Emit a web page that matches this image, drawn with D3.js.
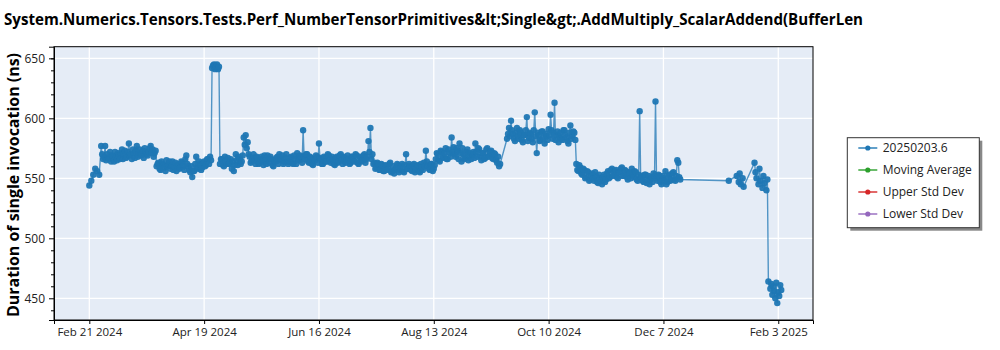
<!DOCTYPE html>
<html><head><meta charset="utf-8">
<script src="https://cdn.jsdelivr.net/npm/d3@7"></script>
<style>body{margin:0;background:#fff}svg{display:block}text{font-family:"Open Sans","Noto Sans",sans-serif}</style>
</head><body><svg id="chart" width="1000" height="350"></svg>
<script>
const titleText = "System.Numerics.Tensors.Tests.Perf_NumberTensorPrimitives&lt;Single&gt;.AddMultiply_ScalarAddend(BufferLen";
const yAxisLabel = "Duration of single invocation (ns)";
const legendLabels = ["20250203.6", "Moving Average", "Upper Std Dev", "Lower Std Dev"];
const legendColors = ["#1f77b4", "#2ca02c", "#d62728", "#9467bd"];
const xTickDates = ["2024-02-21", "2024-04-19", "2024-06-16", "2024-08-13", "2024-10-10", "2024-12-07", "2025-02-03"];
const yTickValues = [450, 500, 550, 600, 650];
const yMinorTicks = [440, 460, 470, 480, 490, 510, 520, 530, 540, 560, 570, 580, 590, 610, 620, 630, 640, 650];

// first run of each day
const runDates = [
"2024-02-21","2024-02-22","2024-02-23","2024-02-24","2024-02-25","2024-02-26","2024-02-27","2024-02-28","2024-02-29",
"2024-03-01","2024-03-02","2024-03-03","2024-03-04","2024-03-05","2024-03-06","2024-03-07","2024-03-08","2024-03-09","2024-03-10","2024-03-11","2024-03-12","2024-03-13","2024-03-14","2024-03-15","2024-03-16","2024-03-17","2024-03-18","2024-03-19","2024-03-20","2024-03-21","2024-03-22","2024-03-23","2024-03-24","2024-03-25","2024-03-26","2024-03-27","2024-03-28","2024-03-29","2024-03-30","2024-03-31",
"2024-04-01","2024-04-02","2024-04-03","2024-04-04","2024-04-05","2024-04-06","2024-04-07","2024-04-08","2024-04-09","2024-04-10","2024-04-11","2024-04-12","2024-04-13","2024-04-14","2024-04-15","2024-04-16","2024-04-17","2024-04-18","2024-04-19","2024-04-20","2024-04-21","2024-04-22","2024-04-23","2024-04-24","2024-04-25","2024-04-26","2024-04-27","2024-04-28","2024-04-29","2024-04-30",
"2024-05-01","2024-05-02","2024-05-03","2024-05-04","2024-05-05","2024-05-06","2024-05-07","2024-05-08","2024-05-09","2024-05-10","2024-05-11","2024-05-12","2024-05-13","2024-05-14","2024-05-15","2024-05-16","2024-05-17","2024-05-18","2024-05-19","2024-05-20","2024-05-21","2024-05-22","2024-05-23","2024-05-24","2024-05-25","2024-05-26","2024-05-27","2024-05-28","2024-05-29","2024-05-30","2024-05-31",
"2024-06-01","2024-06-02","2024-06-03","2024-06-04","2024-06-05","2024-06-06","2024-06-07","2024-06-08","2024-06-09","2024-06-10","2024-06-11","2024-06-12","2024-06-13","2024-06-14","2024-06-15","2024-06-16","2024-06-17","2024-06-18","2024-06-19","2024-06-20","2024-06-21","2024-06-22","2024-06-23","2024-06-24","2024-06-25","2024-06-26","2024-06-27","2024-06-28","2024-06-29","2024-06-30",
"2024-07-01","2024-07-02","2024-07-03","2024-07-04","2024-07-05","2024-07-06","2024-07-07","2024-07-08","2024-07-09","2024-07-10","2024-07-11","2024-07-12","2024-07-13","2024-07-14","2024-07-15","2024-07-16","2024-07-17","2024-07-18","2024-07-19","2024-07-20","2024-07-21","2024-07-22","2024-07-23","2024-07-24","2024-07-25","2024-07-26","2024-07-27","2024-07-28","2024-07-29","2024-07-30","2024-07-31",
"2024-08-01","2024-08-02","2024-08-03","2024-08-04","2024-08-05","2024-08-06","2024-08-07","2024-08-08","2024-08-09","2024-08-10","2024-08-11","2024-08-12","2024-08-13","2024-08-14","2024-08-15","2024-08-16","2024-08-17","2024-08-18","2024-08-19","2024-08-20","2024-08-21","2024-08-22","2024-08-23","2024-08-24","2024-08-25","2024-08-26","2024-08-27","2024-08-28","2024-08-29","2024-08-30","2024-08-31",
"2024-09-01","2024-09-02","2024-09-03","2024-09-04","2024-09-05","2024-09-06","2024-09-07","2024-09-08","2024-09-09","2024-09-10","2024-09-11","2024-09-12","2024-09-13","2024-09-14","2024-09-15","2024-09-19","2024-09-20","2024-09-21","2024-09-22","2024-09-23","2024-09-24","2024-09-25","2024-09-26","2024-09-27","2024-09-28","2024-09-29","2024-09-30",
"2024-10-01","2024-10-02","2024-10-03","2024-10-04","2024-10-05","2024-10-06","2024-10-07","2024-10-08","2024-10-09","2024-10-10","2024-10-11","2024-10-12","2024-10-13","2024-10-14","2024-10-15","2024-10-16","2024-10-17","2024-10-18","2024-10-19","2024-10-20","2024-10-21","2024-10-22","2024-10-23","2024-10-24","2024-10-25","2024-10-26","2024-10-27","2024-10-28","2024-10-29","2024-10-30","2024-10-31",
"2024-11-01","2024-11-02","2024-11-03","2024-11-04","2024-11-05","2024-11-06","2024-11-07","2024-11-08","2024-11-09","2024-11-10","2024-11-11","2024-11-12","2024-11-13","2024-11-14","2024-11-15","2024-11-16","2024-11-17","2024-11-18","2024-11-19","2024-11-20","2024-11-21","2024-11-22","2024-11-23","2024-11-24","2024-11-25","2024-11-26","2024-11-27","2024-11-28","2024-11-29","2024-11-30",
"2024-12-01","2024-12-02","2024-12-03","2024-12-04","2024-12-05","2024-12-06","2024-12-07","2024-12-08","2024-12-09","2024-12-10","2024-12-11","2024-12-12","2024-12-13","2024-12-14","2024-12-15",
"2025-01-09","2025-01-13","2025-01-14T00:00Z","2025-01-14T12:00Z","2025-01-15","2025-01-16T00:00Z","2025-01-16T12:00Z","2025-01-22T00:00Z","2025-01-22T12:00Z","2025-01-23","2025-01-24T00:00Z","2025-01-24T12:00Z","2025-01-25","2025-01-26T00:00Z","2025-01-26T12:00Z","2025-01-27","2025-01-28T00:00Z","2025-01-28T12:00Z",
"2025-01-29","2025-01-30T00:00Z","2025-01-30T12:00Z","2025-01-31T00:00Z","2025-01-31T12:00Z","2025-02-01T00:00Z","2025-02-01T12:00Z","2025-02-02T00:00Z","2025-02-02T12:00Z","2025-02-03T00:00Z","2025-02-03T12:00Z","2025-02-04T00:00Z","2025-02-04T12:00Z"
];
const durations = [
544,548,553,558,556,553,577,566,577,
570,566,564,568,572,565,569,571,566,573,568,579,570,574,567,577,571,569,573,575,570,572,577,574,571,560,563,557,562,559,565,
561,558,564,560,556,562,559,563,557,569,560,555,551,556,568,558,562,559,564,561,566,568,642,645,643,641,562,566,560,564,
567,563,558,556,570,561,566,564,584,586,580,568,564,570,562,567,563,568,561,565,569,563,566,560,564,568,570,565,562,567,564,
564,568,562,566,571,565,568,590,566,570,563,567,561,565,568,579,566,562,567,564,569,563,566,561,568,564,570,562,567,565,
566,563,568,564,569,562,567,565,570,566,581,592,570,563,559,562,557,561,556,560,558,563,556,554,559,561,557,562,555,570,558,
560,556,562,557,561,555,559,563,573,560,557,562,558,566,570,564,572,568,575,566,571,584,576,568,573,579,564,570,567,574,569,
566,572,579,568,574,565,571,567,575,569,573,566,570,563,560,583,592,598,587,581,592,583,588,580,586,601,584,
587,580,605,571,586,582,589,579,585,591,603,583,613,586,580,588,582,590,584,579,594,585,588,562,556,559,553,557,551,555,549,
554,548,552,546,550,545,553,549,556,551,558,553,557,550,555,559,552,556,549,554,558,551,555,548,606,552,547,553,549,545,
551,554,614,548,552,545,550,556,547,553,549,555,548,565,551,
548,552,547,554,545,550,543,563,555,550,545,558,548,542,552,546,540,549,
464,458,462,453,460,456,450,463,446,455,452,461,457
];
// second (midday) run on the same days, aligned with runDates; null = no second run
const secondRunHour = 12;
const secondRunDurations = [
null,null,null,null,null,null,570,568,565,
567,572,569,564,568,571,566,574,570,567,572,569,566,571,573,568,574,570,567,572,569,575,571,568,573,562,558,564,561,556,560,
564,560,557,563,561,558,564,560,566,562,557,560,556,562,559,564,557,563,560,566,562,565,644,641,645,643,566,561,568,562,
562,566,564,561,565,568,562,569,578,575,570,563,567,565,568,562,566,564,569,562,566,568,561,565,567,562,566,569,564,570,562,
567,563,569,562,566,569,563,568,570,564,568,562,566,569,563,567,562,568,564,570,565,568,562,567,563,569,565,568,563,569,
562,568,565,570,563,568,564,569,563,568,572,566,562,558,563,557,562,556,561,557,562,555,560,557,562,555,560,556,561,558,562,
557,561,555,560,556,562,557,560,564,558,562,556,561,571,565,573,567,571,566,574,568,572,570,575,566,571,575,566,572,565,571,
570,567,572,575,568,571,566,574,568,572,567,571,565,568,562,587,585,590,583,588,585,590,582,586,590,581,588,
583,590,585,588,581,589,584,587,582,586,590,588,582,589,585,583,590,586,581,588,583,589,582,557,561,554,558,550,556,548,553,
550,555,547,553,548,551,547,554,550,557,552,556,551,555,558,552,557,551,555,550,553,556,549,553,551,548,553,546,552,549,
547,552,550,553,547,552,548,545,552,548,554,549,552,563,549
];

const W = 1000, H = 350;
const plot = {left: 54, right: 813, top: 46.7, bottom: 320};
const svg = d3.select("#chart");

const parse = s => new Date(s.length === 10 ? s + "T00:00:00Z" : s);
const n = Math.min(runDates.length, durations.length);
const data = d3.range(n).map(i => ({date: parse(runDates[i]), value: durations[i]}));
secondRunDurations.forEach((v, i) => {
  if (v != null && i < n) data.push({date: d3.utcHour.offset(parse(runDates[i]), secondRunHour), value: v});
});
data.sort((a, b) => a.date - b.date);

const x = d3.scaleUtc()
  .domain([new Date(Date.UTC(2024, 1, 3, 4)), new Date(Date.UTC(2025, 1, 20, 13))])
  .range([plot.left, plot.right]);
const y = d3.scaleLinear().domain([431.9, 659.7]).range([plot.bottom, plot.top]);

svg.append("rect").attr("x", plot.left).attr("y", plot.top)
  .attr("width", plot.right - plot.left).attr("height", plot.bottom - plot.top)
  .attr("fill", "#e5ecf6");

const xTicks = xTickDates.map(parse);
const fmt = d3.utcFormat("%b %-d %Y");

const grid = svg.append("g").attr("stroke", "#fff").attr("stroke-width", 1.3);
grid.selectAll("line.gx").data(xTicks).join("line")
  .attr("x1", d => x(d)).attr("x2", d => x(d)).attr("y1", plot.top).attr("y2", plot.bottom);
grid.selectAll("line.gy").data(yTickValues).join("line")
  .attr("x1", plot.left).attr("x2", plot.right).attr("y1", d => y(d)).attr("y2", d => y(d));

const clipId = "plotclip";
svg.append("clipPath").attr("id", clipId).append("rect")
  .attr("x", plot.left).attr("y", plot.top)
  .attr("width", plot.right - plot.left).attr("height", plot.bottom - plot.top);
const series = svg.append("g").attr("clip-path", `url(#${clipId})`);
series.append("path").datum(data)
  .attr("fill", "none").attr("stroke", "#1f77b4").attr("stroke-width", 1.4).attr("stroke-opacity", 0.75)
  .attr("d", d3.line().x(d => x(d.date)).y(d => y(d.value)));
series.selectAll("circle").data(data).join("circle")
  .attr("cx", d => x(d.date)).attr("cy", d => y(d.value)).attr("r", 3.2)
  .attr("fill", "#1f77b4").attr("fill-opacity", 0.95);

svg.append("rect").attr("x", plot.left).attr("y", plot.top)
  .attr("width", plot.right - plot.left).attr("height", plot.bottom - plot.top)
  .attr("fill", "none").attr("stroke", "#000").attr("stroke-width", 1);

const xAxis = d3.axisBottom(x).tickValues(xTicks).tickFormat(fmt).tickSize(4).tickPadding(4);
const gx = svg.append("g").attr("transform", `translate(0,${plot.bottom})`).call(xAxis);
gx.select(".domain").attr("stroke", "#000");
gx.selectAll("text").attr("font-size", "11.5px").attr("fill", "#222").attr("font-family", '"Open Sans","Noto Sans",sans-serif');

const yAxis = d3.axisLeft(y).tickValues(yTickValues).tickSize(5).tickPadding(4);
const gy = svg.append("g").attr("transform", `translate(${plot.left},0)`).call(yAxis);
gy.select(".domain").attr("stroke", "#000");
gy.selectAll("text").attr("font-size", "12px").attr("fill", "#222").attr("font-family", '"Open Sans","Noto Sans",sans-serif');
const yMinor = d3.axisLeft(y).tickValues(yMinorTicks).tickSize(3).tickFormat("");
const gym = svg.append("g").attr("transform", `translate(${plot.left},0)`).call(yMinor);
gym.select(".domain").remove();

svg.append("text").attr("x", 4).attr("y", 25)
  .attr("font-size", "16px").attr("font-weight", "bold").attr("fill", "#000")
  .attr("textLength", 859).attr("lengthAdjust", "spacingAndGlyphs")
  .text(titleText);

svg.append("text")
  .attr("transform", `translate(19,185) rotate(-90)`)
  .attr("text-anchor", "middle")
  .attr("font-size", "16px").attr("font-weight", "bold").attr("fill", "#000")
  .attr("textLength", 264).attr("lengthAdjust", "spacingAndGlyphs")
  .text(yAxisLabel);

const lg = svg.append("g");
lg.append("rect").attr("x", 850.3).attr("y", 140.7).attr("width", 132).attr("height", 90).attr("fill", "#888");
lg.append("rect").attr("x", 847.3).attr("y", 137.7).attr("width", 132).attr("height", 90)
  .attr("fill", "#fff").attr("stroke", "#333").attr("stroke-width", 1);
const items = lg.selectAll("g.item").data(legendLabels).join("g")
  .attr("transform", (d, i) => `translate(0,${148 + i * 22})`);
items.append("line").attr("x1", 858.3).attr("x2", 877.3).attr("y1", 0).attr("y2", 0)
  .attr("stroke", (d, i) => legendColors[i]).attr("stroke-width", 1.4);
items.append("circle").attr("cx", 867.8).attr("cy", 0).attr("r", 2.6)
  .attr("fill", (d, i) => legendColors[i]);
items.append("text").attr("x", 882.7).attr("y", 4.3)
  .attr("font-size", "12px").attr("fill", "#222").text(d => d);
</script>
</body></html>
